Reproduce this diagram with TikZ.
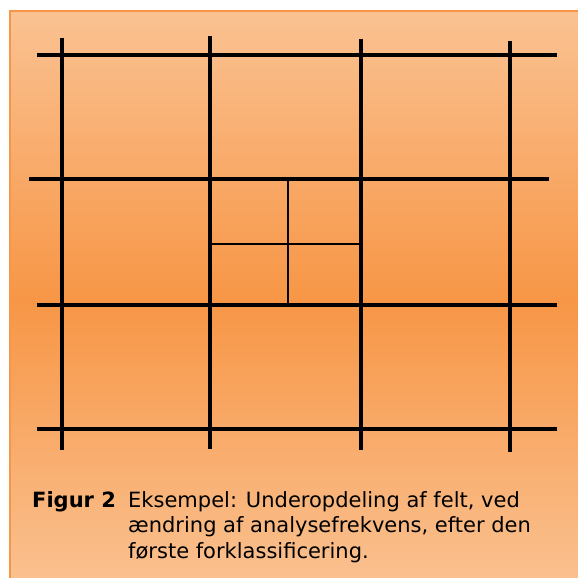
\documentclass[tikz,border=0pt]{standalone}
\usepackage{fontspec}
\setmainfont{DejaVu Sans}
\usepackage{tikz}
\tikzstyle{field} = [draw, line width=4pt, black]
\tikzstyle{subfield} = [draw, line width=1.8pt, black]
\tikzstyle{caption} = [inner sep=0pt, font=\fontsize{21}{25.5}\selectfont]

\begin{document}
\begin{tikzpicture}[x=1pt, y=-1pt]
	\useasboundingbox (0,0) rectangle (578,578);
	\clip (0,0) rectangle (578,578);
	% background panel
	\shade [top color={rgb,255:red,250;green,194;blue,146},
		bottom color={rgb,255:red,250;green,194;blue,146},
		middle color={rgb,255:red,247;green,150;blue,70}]
		(10,11) rectangle (600,590);
	\draw [line width=2.5pt, color={rgb,255:red,247;green,150;blue,70}] (10,11) rectangle (600,590);
	% coarse grid
	\path [field] (37,55) -- (557,55);
	\path [field] (29,179) -- (549,179);
	\path [field] (37,305) -- (557,305);
	\path [field] (37,429) -- (557,429);
	\path [field] (62,38) -- (62,450);
	\path [field] (210,36) -- (210,449);
	\path [field] (361,39) -- (361,450);
	\path [field] (510,41) -- (510,452);
	% subdivided field
	\path [subfield] (288,179) -- (288,305);
	\path [subfield] (210,244) -- (361,244);
	% caption
	\node [caption, anchor=base west, font=\fontsize{21}{25.5}\selectfont\bfseries] (fig) at (32,507) {Figur 2};
	\node [caption, anchor=base west, align=left] (text) at (128,558) {Eksempel: Underopdeling af felt, ved\\ændring af analysefrekvens, efter den\\første forklassificering.};
\end{tikzpicture}
\end{document}
